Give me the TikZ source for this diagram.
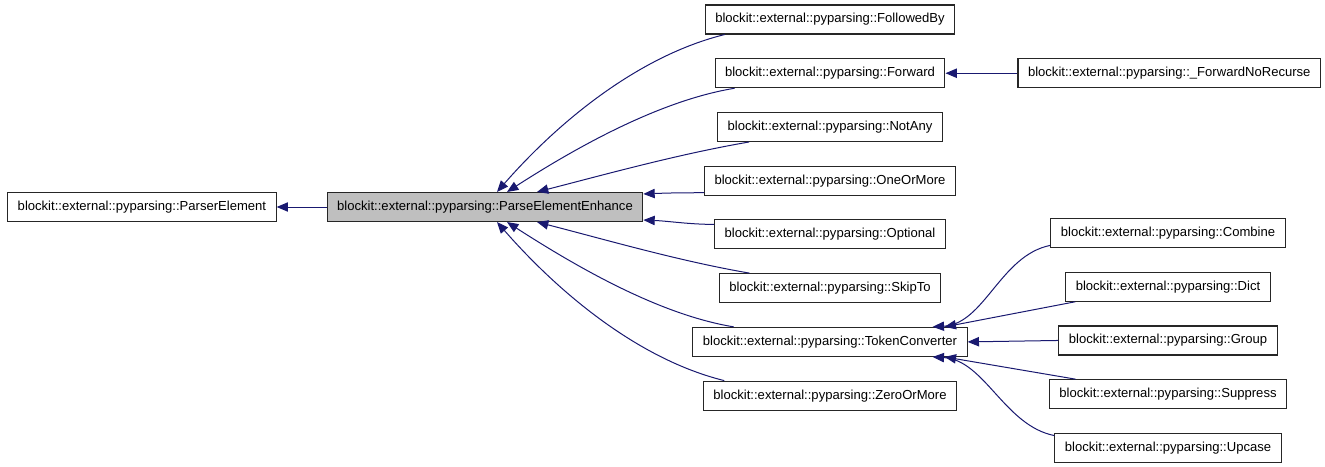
\documentclass[tikz,border=0pt]{standalone}
\usepackage{fontspec}
\setmainfont{Liberation Sans}
\usepackage{xcolor}
\usepackage{tikz}
\usetikzlibrary{arrows.meta,positioning}

\definecolor{edgeblue}{HTML}{191970}
\definecolor{basegray}{HTML}{BFBFBF}

\begin{document}
\begin{tikzpicture}[
    x=0.75pt, y=-0.75pt,
    node distance=17.75pt,
    box/.style={rectangle,draw=black!85,line width=0.8pt,minimum height=21.75pt,inner xsep=7.5pt,inner ysep=1pt,align=center,font=\fontsize{9.8}{11}\selectfont},
    arrow/.style={-{Triangle[length=8.5pt,width=7pt]},draw=edgeblue,line width=0.75pt}
]
    \useasboundingbox (0,0) rectangle (1325,467);

    % base classes
    \node[box,fill=basegray] (enhance) at (485,207) {blockit::external::pyparsing::ParseElementEnhance};
    \node[box,left=37.5pt of enhance] (parser) {blockit::external::pyparsing::ParserElement};

    % derived from ParseElementEnhance
    \node[box] (followedby) at (830,19.5) {blockit::external::pyparsing::FollowedBy};
    \node[box,below=of followedby] (forward) {blockit::external::pyparsing::Forward};
    \node[box,below=of forward] (notany) {blockit::external::pyparsing::NotAny};
    \node[box,below=of notany] (oneormore) {blockit::external::pyparsing::OneOrMore};
    \node[box,below=of oneormore] (optional) {blockit::external::pyparsing::Optional};
    \node[box,below=of optional] (skipto) {blockit::external::pyparsing::SkipTo};
    \node[box,below=of skipto] (tokenconv) {blockit::external::pyparsing::TokenConverter};
    \node[box,below=of tokenconv] (zeroormore) {blockit::external::pyparsing::ZeroOrMore};

    \node[box,right=54pt of forward] (norecurse) {blockit::external::pyparsing::\_ForwardNoRecurse};

    % derived from TokenConverter
    \node[box] (combine) at (1168,233) {blockit::external::pyparsing::Combine};
    \node[box,below=of combine] (dict) {blockit::external::pyparsing::Dict};
    \node[box,below=of dict] (group) {blockit::external::pyparsing::Group};
    \node[box,below=of group] (suppress) {blockit::external::pyparsing::Suppress};
    \node[box,below=of suppress] (upcase) {blockit::external::pyparsing::Upcase};

    \draw[arrow] (enhance.west) -- (parser.east);
    \draw[arrow] (norecurse.west) -- (forward.east);

    \draw[arrow] ([xshift=15pt]followedby.south west) .. controls +(-85,21) and +(63,-72) .. ([xshift=9pt]enhance.north);
    \draw[arrow] ([xshift=15pt]forward.south west) .. controls +(-73,12) and +(73,-47) .. ([xshift=16.5pt]enhance.north);
    \draw[arrow] ([xshift=24pt]notany.south west) .. controls +(-70,12) and +(70,-18) .. ([xshift=39pt]enhance.north);
    \draw[arrow] ([yshift=2.25pt]oneormore.south west) .. controls +(-25,0) and +(25,-1) .. ([yshift=-1.5pt]enhance.north east);
    \draw[arrow] ([yshift=-3.75pt]optional.north west) .. controls +(-25,0) and +(25,1) .. ([yshift=1.5pt]enhance.south east);
    \draw[arrow] ([xshift=23pt]skipto.north west) .. controls +(-70,-12) and +(70,18) .. ([xshift=39pt]enhance.south);
    \draw[arrow] ([xshift=31pt]tokenconv.north west) .. controls +(-73,-12) and +(73,47) .. ([xshift=16.5pt]enhance.south);
    \draw[arrow] ([xshift=16pt]zeroormore.north west) .. controls +(-85,-21) and +(63,72) .. ([xshift=9pt]enhance.south);

    \draw[arrow] ([yshift=2pt]combine.south west) .. controls +(-50,10) and +(52,-3) .. ([xshift=77pt]tokenconv.north);
    \draw[arrow] ([xshift=7.5pt]dict.south west) -- ([xshift=86pt]tokenconv.north);
    \draw[arrow] (group.west) -- (tokenconv.east);
    \draw[arrow] ([xshift=20pt]suppress.north west) -- ([xshift=86pt]tokenconv.south);
    \draw[arrow] ([yshift=-2pt]upcase.north west) .. controls +(-50,-10) and +(52,3) .. ([xshift=77pt]tokenconv.south);
\end{tikzpicture}
\end{document}
